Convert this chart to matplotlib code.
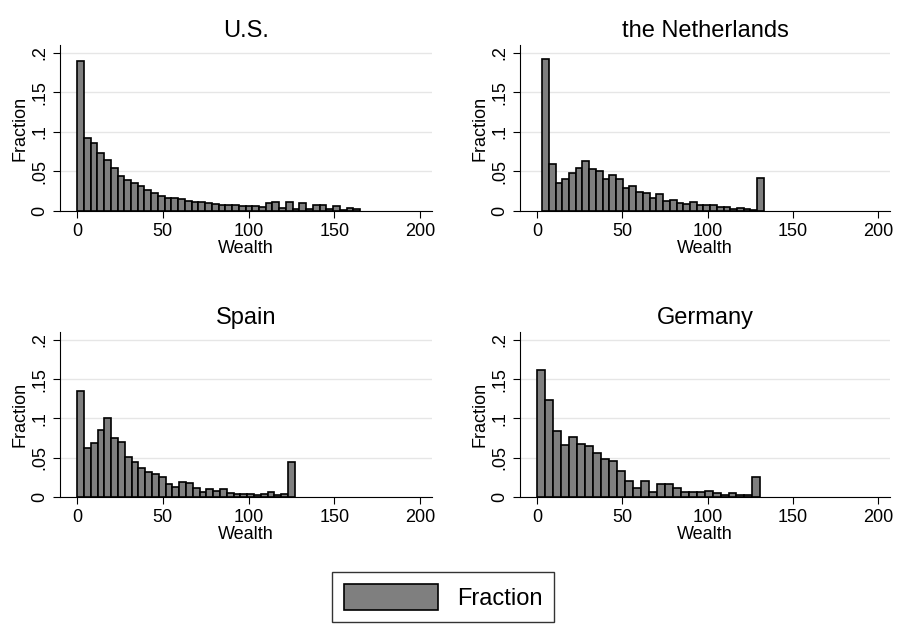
import numpy as np
import matplotlib.pyplot as plt

plt.rcParams['font.family'] = ['Liberation Sans', 'DejaVu Sans']

titles = ["U.S.", "the Netherlands", "Spain", "Germany"]
starts = [0, 3, 0, 0]
ends = [165, 133, 127, 131]
us = [.190, .092, .086, .074, .064, .055, .044, .039, .035, .031, .026, .023, .019, .017,
      .016, .015, .013, .012, .011, .010, .009, .008, .008, .007, .006, .006, .006, .005,
      .010, .011, .004, .011, .002, .010, .003, .007, .008, .002, .006, .001, .004, .003]
nl = [.192, .059, .036, .041, .048, .054, .063, .053, .051, .040, .045, .040, .029, .032,
      .024, .023, .017, .021, .013, .014, .010, .009, .011, .007, .007, .008, .005, .005,
      .002, .004, .002, .001, .042]
es = [.135, .063, .069, .085, .100, .075, .070, .051, .045, .037, .032, .029, .026, .017,
      .013, .019, .018, .011, .006, .010, .008, .010, .005, .004, .004, .004, .003, .004,
      .006, .002, .004, .044]
de = [.162, .124, .084, .066, .077, .068, .065, .056, .048, .046, .033, .020, .012, .020,
      .007, .017, .017, .012, .007, .007, .006, .008, .005, .002, .005, .003, .003, .026]
series = [us, nl, es, de]

fig = plt.figure(figsize=(8.99, 6.24), dpi=100)
W, H = 899, 624
# (left, top, right, bottom) pixel boxes
boxes = [(60, 45, 432, 211), (520, 45, 890, 211), (60, 332, 432, 497), (520, 332, 890, 497)]
for (l, t, r, b), title, vals, s, e in zip(boxes, titles, series, starts, ends):
    ax = fig.add_axes([l / W, 1 - b / H, (r - l) / W, (b - t) / H])
    w = (e - s) / len(vals)
    x = s + w * np.arange(len(vals))
    ax.bar(x, vals, width=w, align='edge', color='#7f7f7f', edgecolor='black', linewidth=1.2, zorder=3)
    ax.set_xlim(-10, 207)
    ax.set_ylim(0, 0.21)
    ax.set_xticks([0, 50, 100, 150, 200])
    ax.set_yticks([0, .05, .1, .15, .2])
    ax.set_yticklabels(["0", ".05", ".1", ".15", ".2"], rotation=90, va='center')
    ax.grid(axis='y', color='#e6e6e6', linewidth=1, zorder=0)
    for sp in ['top', 'right']:
        ax.spines[sp].set_visible(False)
    ax.tick_params(labelsize=13, length=5)
    ax.set_xlabel("Wealth", fontsize=13, labelpad=0)
    ax.set_ylabel("Fraction", fontsize=13, labelpad=2)
    ax.set_title(title, fontsize=17, pad=6)

handle = plt.Rectangle((0, 0), 1, 1, facecolor='#7f7f7f', edgecolor='black', linewidth=1.2)
fig.legend([handle], ["Fraction"], loc='center', bbox_to_anchor=(443 / W, 1 - 597 / H),
           fontsize=17, frameon=True, fancybox=False, edgecolor='black',
           handlelength=4, handleheight=1.3, borderpad=0.5)
fig.savefig("out.png", dpi=100, facecolor='white')
